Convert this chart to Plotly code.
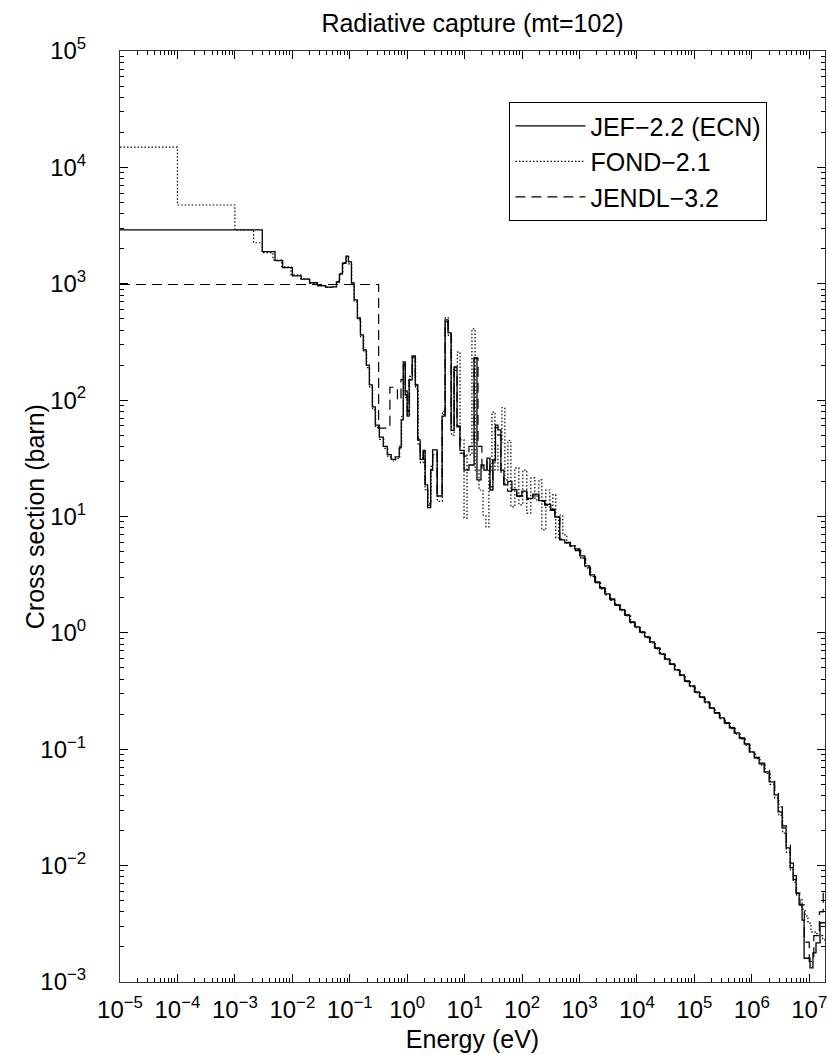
import plotly.graph_objects as go

# ---- Evaluated radiative capture cross sections (step / group-wise data) ----
# Energies in eV (lower bound of each step), cross sections in barn.

jef_energy = [
    1e-5, 3.0e-3, 5.0e-3, 6.8e-3, 1.0e-2, 1.43e-2, 2.0e-2, 2.74e-2, 3.77e-2, 5.0e-2,
    5.85e-2, 6.6e-2, 7.45e-2, 8.6e-2, 9.45e-2, 0.107, 0.119, 0.1355, 0.153, 0.172,
    0.194, 0.219, 0.247, 0.278, 0.327, 0.383, 0.45, 0.527, 0.62, 0.726,
    0.787, 0.853, 0.923, 1.0, 1.08, 1.22, 1.38, 1.52, 1.68, 1.9,
    2.05, 2.27, 2.56, 2.77, 3.32, 4.05, 4.57, 5.15, 5.81, 6.55,
    7.38, 8.3, 9.77, 11.9, 14.6, 16.4, 19.3, 21.7, 24.5, 27.6,
    31.1, 34.4, 38.0, 42.8, 48.3, 56.6, 66.5, 81.0, 99.0, 121.0,
    154.0, 195.0, 249.0, 316.0, 371.0, 453.0, 553.0, 676.0, 826.0, 1007.0,
    1231.0, 1503.0, 1836.0, 2243.0, 2738.0, 3342.0, 4083.0, 4989.0, 6095.0, 7447.0,
    9085.0, 1.109e4, 1.355e4, 1.656e4, 2.023e4, 2.466e4, 3.013e4, 3.681e4, 4.498e4, 5.495e4,
    6.699e4, 8.185e4, 1.0e5, 1.222e5, 1.493e5, 1.82e5, 2.22e5, 2.72e5, 3.32e5, 4.06e5,
    4.94e5, 6.04e5, 7.38e5, 9.02e5, 1.10e6, 1.34e6, 1.64e6, 2.0e6, 2.45e6, 2.87e6,
    3.37e6, 3.95e6, 4.64e6, 5.23e6, 5.9e6, 6.65e6, 7.5e6, 8.13e6, 1.03e7, 1.16e7,
    1.31e7, 1.54e7, 2.0e7,
]
jef_xs = [
    2900, 1890, 1580, 1375, 1170, 1095, 1020, 965, 935, 940,
    1035, 1210, 1500, 1730, 1540, 1015, 726, 508, 363, 270,
    200, 135, 87.5, 61, 48, 40, 34, 31, 32.5, 38.8,
    67.6, 213, 111, 73, 149, 240, 135, 45.5, 31, 37,
    18.7, 11.9, 25, 37.4, 15, 73, 489, 378, 55, 193,
    59, 37, 25, 27.7, 231, 20.6, 27.7, 25, 31.8, 16.9,
    30.6, 61, 55.5, 25, 18.7, 20, 17, 15, 16.5, 14.3,
    15.6, 13.7, 12.7, 11.5, 9.9, 6.3, 5.93, 5.59, 5.27, 4.59,
    3.77, 3.15, 2.74, 2.44, 2.16, 1.96, 1.74, 1.58, 1.43, 1.245,
    1.127, 1.02, 0.924, 0.838, 0.743, 0.661, 0.598, 0.542, 0.481, 0.436,
    0.387, 0.351, 0.311, 0.282, 0.255, 0.227, 0.206, 0.186, 0.169, 0.153,
    0.138, 0.125, 0.111, 0.095, 0.0843, 0.075, 0.064, 0.0525, 0.0406, 0.029,
    0.0211, 0.0142, 0.0096, 0.0076, 0.0058, 0.0046, 0.0034, 0.0016, 0.00132, 0.00178,
    0.00217, 0.00323, 0.00323,
]

fond_energy = [
    1e-5, 1e-4, 1e-3, 2.12e-3, 3.0e-3, 4.6e-3, 6.5e-3, 9.5e-3, 1.4e-2, 2.0e-2,
    2.8e-2, 3.8e-2, 5.0e-2, 5.9e-2, 6.7e-2, 7.6e-2, 8.7e-2, 9.6e-2, 0.108, 0.12,
    0.137, 0.155, 0.175, 0.197, 0.222, 0.25, 0.282, 0.33, 0.39, 0.46,
    0.54, 0.63, 0.74, 0.8, 0.86, 0.93, 1.0, 1.1, 1.24, 1.4,
    1.55, 1.7, 1.9, 2.05, 2.3, 2.6, 2.8, 3.35, 4.1, 4.6,
    5.2, 5.9, 6.55, 7.47, 8.32, 9.77, 11.0, 13.4, 15.2, 17.8,
    20.9, 23.5, 26.5, 29.9, 33.7, 38.0, 44.6, 50.2, 56.6, 63.9,
    75.0, 88.0, 103.0, 121.0, 142.0, 167.0, 196.0, 221.0, 259.0, 304.0,
    343.0, 386.0, 435.0, 511.0, 600.0, 700.0, 850.0, 1050.0, 1280.0, 1560.0,
    1900.0, 2330.0, 2850.0, 3480.0, 4250.0, 5200.0, 6350.0, 7750.0, 9450.0, 1.15e4,
    1.41e4, 1.72e4, 2.10e4, 2.56e4, 3.13e4, 3.82e4, 4.67e4, 5.70e4, 6.96e4, 8.50e4,
    1.04e5, 1.27e5, 1.55e5, 1.89e5, 2.31e5, 2.82e5, 3.45e5, 4.22e5, 5.13e5, 6.27e5,
    7.66e5, 9.36e5, 1.14e6, 1.39e6, 1.70e6, 2.08e6, 2.50e6, 2.95e6, 3.45e6, 4.0e6,
    4.7e6, 5.3e6, 6.0e6, 6.8e6, 7.5e6, 8.45e6, 9.5e6, 1.07e7, 1.26e7, 1.47e7,
    1.72e7, 2.0e7,
]
fond_xs = [
    14900, 4750, 2900, 2250, 1850, 1600, 1400, 1190, 1100, 1010,
    960, 930, 945, 1050, 1230, 1520, 1700, 1480, 980, 700,
    490, 350, 260, 190, 128, 83, 58, 46, 38.5, 32.5,
    30, 31.5, 40, 72, 205, 105, 75, 160, 230, 125,
    42, 29, 33, 17, 13, 27, 34, 13.5, 80, 510,
    360, 50, 190, 259, 45.5, 9.7, 33.8, 410, 25, 16.9,
    10.3, 8.15, 25, 79, 25, 41, 86, 20.6, 45, 12.1,
    26.2, 12.6, 25, 10.7, 21.5, 13.9, 20.6, 7.67, 16.9, 11.4,
    15.4, 6.55, 10.3, 6.95, 5.93, 5.6, 5.2, 4.4, 3.6, 3.05,
    2.7, 2.38, 2.12, 1.9, 1.72, 1.55, 1.40, 1.22, 1.11, 1.0,
    0.91, 0.82, 0.73, 0.655, 0.59, 0.535, 0.475, 0.43, 0.38, 0.345,
    0.305, 0.277, 0.25, 0.224, 0.203, 0.183, 0.166, 0.15, 0.135, 0.122,
    0.108, 0.094, 0.083, 0.073, 0.062, 0.05, 0.038, 0.027, 0.019, 0.013,
    0.0092, 0.0072, 0.0056, 0.0051, 0.0042, 0.0037, 0.0032, 0.0027, 0.0026, 0.0025,
    0.0023, 0.0023,
]

jendl_energy = [
    1e-5, 0.318, 0.5, 0.676, 0.78, 0.86, 0.93, 1.0, 1.08, 1.22,
    1.38, 1.52, 1.68, 1.9, 2.05, 2.27, 2.56, 2.77, 3.32, 4.05,
    4.57, 5.15, 5.81, 6.55, 7.38, 8.3, 9.77, 11.9, 14.6, 17.1,
    20.0, 24.5, 27.6, 31.0, 34.4, 38.0, 43.0, 48.0, 56.0, 66.0,
    81.0, 99.0, 121.0, 154.0, 195.0, 249.0, 316.0, 371.0, 453.0, 560.0,
    690.0, 850.0, 1040.0, 1270.0, 1550.0, 1900.0, 2300.0, 2800.0, 3400.0, 4150.0,
    5100.0, 6200.0, 7600.0, 9300.0, 1.13e4, 1.38e4, 1.69e4, 2.06e4, 2.52e4, 3.08e4,
    3.76e4, 4.59e4, 5.60e4, 6.85e4, 8.35e4, 1.02e5, 1.25e5, 1.52e5, 1.86e5, 2.27e5,
    2.77e5, 3.39e5, 4.14e5, 5.05e5, 6.16e5, 7.53e5, 9.2e5, 1.12e6, 1.37e6, 1.67e6,
    2.04e6, 2.5e6, 2.9e6, 3.4e6, 4.0e6, 4.7e6, 5.3e6, 5.95e6, 6.9e6, 8.2e6,
    1.0e7, 1.2e7, 1.5e7, 1.75e7, 2.0e7,
]
jendl_xs = [
    985, 57.4, 129, 100, 150, 200, 120, 80, 150, 235,
    135, 47, 32, 36, 19, 12.5, 25, 36, 15.5, 75,
    470, 370, 60, 180, 60, 35, 33, 40, 230, 40,
    25, 30, 18, 30, 58, 50, 24, 19, 16.5, 17,
    15, 16, 14, 15, 13.5, 12.5, 11.3, 9.8, 6.4, 6.0,
    5.5, 5.1, 4.4, 3.65, 3.1, 2.7, 2.42, 2.14, 1.93, 1.73,
    1.56, 1.41, 1.23, 1.115, 1.01, 0.915, 0.83, 0.735, 0.655, 0.593,
    0.536, 0.477, 0.432, 0.383, 0.348, 0.308, 0.279, 0.252, 0.225, 0.204,
    0.184, 0.167, 0.152, 0.137, 0.124, 0.11, 0.095, 0.085, 0.076, 0.066,
    0.055, 0.043, 0.032, 0.022, 0.015, 0.0105, 0.0082, 0.0058, 0.0046, 0.0022,
    0.0015, 0.0025, 0.004, 0.006, 0.006,
]

# ---- Axis tick values / labels ----
x_decades = list(range(-5, 8))
y_decades = list(range(-3, 6))


def power_label(p):
    sign = "\u2212" if p < 0 else ""
    return f"10<sup>{sign}{abs(p)}</sup>"


x_tickvals = [10.0 ** p for p in x_decades]
x_ticktext = [power_label(p) for p in x_decades]
y_tickvals = [10.0 ** p for p in y_decades]
y_ticktext = [power_label(p) for p in y_decades]
x_minor = [m * 10.0 ** p for p in range(-5, 8) for m in range(2, 10)]
y_minor = [m * 10.0 ** p for p in range(-3, 5) for m in range(2, 10)]

FONT = "Liberation Sans, Arial, Helvetica, sans-serif"

fig = go.Figure()
fig.add_trace(go.Scatter(
    x=jef_energy, y=jef_xs, name="JEF\u22122.2 (ECN)", mode="lines",
    line=dict(color="black", width=1.3, shape="hv"),
))
fig.add_trace(go.Scatter(
    x=fond_energy, y=fond_xs, name="FOND\u22122.1", mode="lines",
    line=dict(color="black", width=1.2, shape="hv", dash="1.5px,2px"),
))
fig.add_trace(go.Scatter(
    x=jendl_energy, y=jendl_xs, name="JENDL\u22123.2", mode="lines",
    line=dict(color="black", width=1.2, shape="hv", dash="10px,6px"),
))

axis_common = dict(
    type="log",
    showgrid=False,
    zeroline=False,
    showline=True,
    linecolor="#333",
    linewidth=1,
    mirror="ticks",
    ticks="inside",
    ticklen=8,
    tickwidth=1,
    tickcolor="black",
    tickmode="array",
    tickfont=dict(family=FONT, size=24, color="black"),
)

fig.update_xaxes(
    **axis_common,
    range=[-5, 7.274],
    tickvals=x_tickvals,
    ticktext=x_ticktext,
    ticklabelstandoff=6,
    ticklabeloverflow="allow",
    minor=dict(tickmode="array", tickvals=x_minor, ticks="inside", ticklen=4,
               tickcolor="black", tickwidth=1, showgrid=False),
    title=dict(text="Energy (eV)", font=dict(family=FONT, size=25, color="black"),
               standoff=8),
)
fig.update_yaxes(
    **axis_common,
    range=[-3, 5],
    tickvals=y_tickvals,
    ticktext=y_ticktext,
    ticklabelstandoff=28,
    minor=dict(tickmode="array", tickvals=y_minor, ticks="inside", ticklen=4,
               tickcolor="black", tickwidth=1, showgrid=False),
)

# y-axis title placed close to the tick labels
fig.add_annotation(
    text="Cross section (barn)", textangle=-90,
    xref="paper", yref="paper", x=-0.121, y=0.5,
    xanchor="center", yanchor="middle", showarrow=False,
    font=dict(family=FONT, size=25, color="black"),
)

fig.update_layout(
    width=827,
    height=1055,
    margin=dict(l=120, r=0, t=51, b=73),
    paper_bgcolor="white",
    plot_bgcolor="white",
    font=dict(family=FONT, color="black"),
    title=dict(text="Radiative capture (mt=102)", x=0.5, xref="paper",
               xanchor="center", y=0.978, yanchor="middle",
               font=dict(family=FONT, size=25, color="black")),
    showlegend=True,
    legend=dict(
        x=0.5524, y=0.945, xanchor="left", yanchor="top",
        bgcolor="white", bordercolor="black", borderwidth=1,
        font=dict(family=FONT, size=25, color="black"),
        itemwidth=70,
        tracegroupgap=0,
    ),
)

fig.write_html("out.html")
